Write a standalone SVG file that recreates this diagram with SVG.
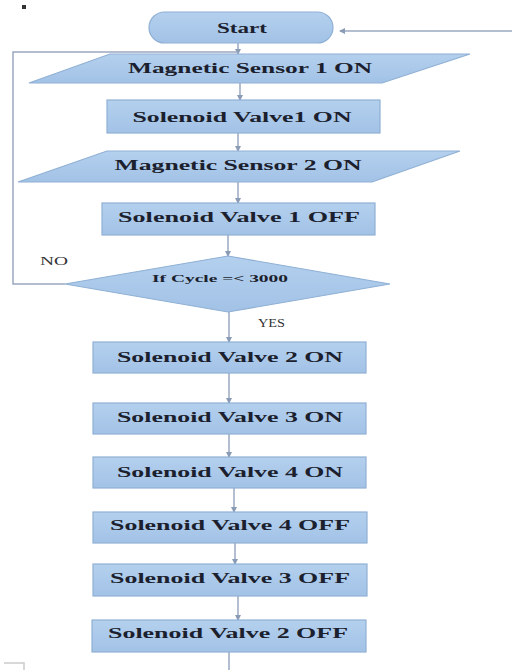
<svg xmlns="http://www.w3.org/2000/svg" width="512" height="670" viewBox="0 0 512 670">
<defs>
<linearGradient id="g" x1="0" y1="0" x2="0" y2="1">
<stop offset="0" stop-color="#b4d0ee"/>
<stop offset="1" stop-color="#a2c2e6"/>
</linearGradient>
<marker id="a" viewBox="0 0 6 6" refX="5" refY="3" markerWidth="4" markerHeight="4" orient="auto">
<path d="M0,0 L6,3 L0,6 z" fill="#8a9bb5"/>
</marker>
<style>
.n{fill:url(#g);stroke:#8fb0d4;stroke-width:1.2}
.t{font-family:"Liberation Serif",serif;font-weight:bold;font-size:14px;fill:#1c1f2e;text-anchor:middle}
.c{fill:none;stroke:#9aa8c0;stroke-width:1.5}
.l{font-family:"Liberation Serif",serif;font-size:12px;fill:#333}
</style>
</defs>
<rect width="512" height="670" fill="#fff"/>
<rect x="22" y="5" width="4" height="4" fill="#333"/>
<path d="M4,663 H24 V670" fill="none" stroke="#ccc" stroke-width="1.5"/>
<g id="connectors">
<path class="c" d="M512,31 H340" marker-end="url(#a)"/>
<path class="c" d="M238,42 V54" marker-end="url(#a)"/>
<path class="c" d="M65,284 H13 V52 H238"/>
<path class="c" d="M240,83 V100" marker-end="url(#a)"/>
<path class="c" d="M238,133 V151" marker-end="url(#a)"/>
<path class="c" d="M238,182 V203" marker-end="url(#a)"/>
<path class="c" d="M228,235 V256" marker-end="url(#a)"/>
<path class="c" d="M229,312 V342" marker-end="url(#a)"/>
<path class="c" d="M229,373 V403" marker-end="url(#a)"/>
<path class="c" d="M229,434 V457" marker-end="url(#a)"/>
<path class="c" d="M234,488 V512" marker-end="url(#a)"/>
<path class="c" d="M235,543 V564" marker-end="url(#a)"/>
<path class="c" d="M238,596 V620" marker-end="url(#a)"/>
<path class="c" d="M229,652 V670"/>
<text class="l" x="40" y="265" textLength="28" lengthAdjust="spacingAndGlyphs">NO</text>
<text class="l" x="258" y="327" textLength="27" lengthAdjust="spacingAndGlyphs">YES</text>
</g>
<g id="start">
<rect class="n" x="149" y="12" width="184" height="31" rx="15.5"/>
<text class="t" x="242" y="33" textLength="50" lengthAdjust="spacingAndGlyphs">Start</text>
</g>
<g id="ms1">
<polygon class="n" points="110,54 470,54 382,83 29,83"/>
<text class="t" x="250" y="73" textLength="244" lengthAdjust="spacingAndGlyphs">Magnetic Sensor 1 ON</text>
</g>
<g id="sv1on">
<rect class="n" x="107" y="100" width="273" height="33"/>
<text class="t" x="242" y="122" textLength="219" lengthAdjust="spacingAndGlyphs">Solenoid Valve1 ON</text>
</g>
<g id="ms2">
<polygon class="n" points="107,151 460,151 372,182 18,182"/>
<text class="t" x="238" y="170" textLength="247" lengthAdjust="spacingAndGlyphs">Magnetic Sensor 2 ON</text>
</g>
<g id="sv1off">
<rect class="n" x="102" y="203" width="273" height="32"/>
<text class="t" x="239" y="222" textLength="242" lengthAdjust="spacingAndGlyphs">Solenoid Valve 1 OFF</text>
</g>
<g id="decision">
<polygon class="n" points="228,256 390,284 228,312 65,284"/>
<text class="t" x="220" y="282" style="font-size:11px" textLength="136" lengthAdjust="spacingAndGlyphs">If Cycle =&lt; 3000</text>
</g>
<g id="sv2on">
<rect class="n" x="93" y="342" width="273" height="31"/>
<text class="t" x="230" y="362" textLength="226" lengthAdjust="spacingAndGlyphs">Solenoid Valve 2 ON</text>
</g>
<g id="sv3on">
<rect class="n" x="93" y="403" width="273" height="31"/>
<text class="t" x="230" y="422" textLength="226" lengthAdjust="spacingAndGlyphs">Solenoid Valve 3 ON</text>
</g>
<g id="sv4on">
<rect class="n" x="93" y="457" width="273" height="31"/>
<text class="t" x="230" y="477" textLength="226" lengthAdjust="spacingAndGlyphs">Solenoid Valve 4 ON</text>
</g>
<g id="sv4off">
<rect class="n" x="93" y="512" width="274" height="31"/>
<text class="t" x="230" y="530" textLength="240" lengthAdjust="spacingAndGlyphs">Solenoid Valve 4 OFF</text>
</g>
<g id="sv3off">
<rect class="n" x="93" y="564" width="274" height="32"/>
<text class="t" x="230" y="583" textLength="240" lengthAdjust="spacingAndGlyphs">Solenoid Valve 3 OFF</text>
</g>
<g id="sv2off">
<rect class="n" x="92" y="620" width="274" height="32"/>
<text class="t" x="228" y="638" textLength="240" lengthAdjust="spacingAndGlyphs">Solenoid Valve 2 OFF</text>
</g>
</svg>
